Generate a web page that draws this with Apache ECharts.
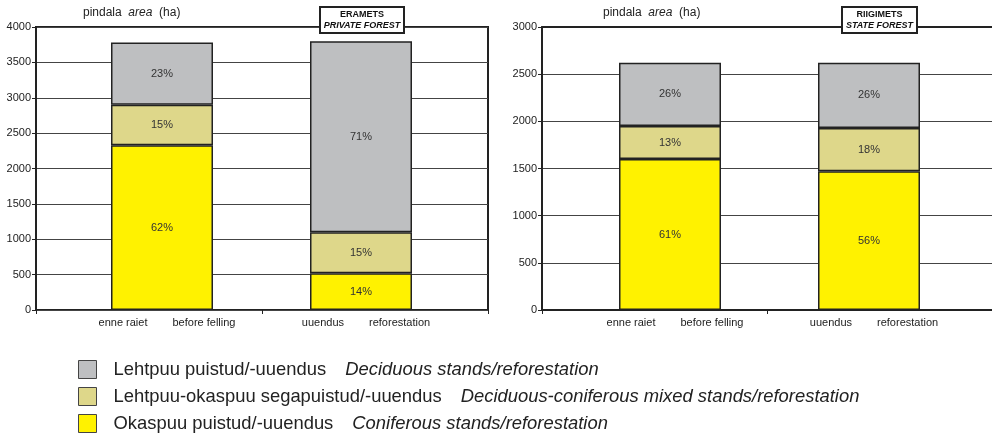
<!DOCTYPE html>
<html><head><meta charset="utf-8">
<script src="https://cdn.jsdelivr.net/npm/echarts@6/dist/echarts.min.js"></script>
<style>html,body{margin:0;padding:0;background:#fff}#c{width:992px;height:435px}</style>
</head><body><div id="c"></div>
<script>
// ---- data ----
const categoriesEt = ['enne raiet', 'uuendus'];
const categoriesEn = ['before felling', 'reforestation'];

const privateConiferous = [2330, 520];
const privateMixed = [570, 580];
const privateDeciduous = [880, 2700];
const privateConiferousPct = ['62%', '14%'];
const privateMixedPct = ['15%', '15%'];
const privateDeciduousPct = ['23%', '71%'];

const stateConiferous = [1600, 1470];
const stateMixed = [350, 460];
const stateDeciduous = [670, 690];
const stateConiferousPct = ['61%', '56%'];
const stateMixedPct = ['13%', '18%'];
const stateDeciduousPct = ['26%', '26%'];

const privateAxisMax = 4000;
const stateAxisMax = 3000;
const axisInterval = 500;

const seriesNamesEt = ['Lehtpuu puistud/-uuendus', 'Lehtpuu-okaspuu segapuistud/-uuendus', 'Okaspuu puistud/-uuendus'];
const seriesNamesEn = ['Deciduous stands/reforestation', 'Deciduous-coniferous mixed stands/reforestation', 'Coniferous stands/reforestation'];
const colors = ['#BEBFC1', '#DED78A', '#FFF200'];

// ---- chart ----
const FONT = "'Liberation Sans', Arial, sans-serif";
const chart = echarts.init(document.getElementById('c'), null, {renderer: 'canvas'});

function frameGrid(left, width, border) {
  return {left: left, top: 27, width: width, height: 283, show: border, borderColor: '#222', borderWidth: 2, backgroundColor: 'transparent'};
}
function barGrid(left) {
  return {left: left, top: 27, width: 398, height: 283};
}
function visibleY(gi, max) {
  return {
    gridIndex: gi, type: 'value', min: 0, max: max, interval: axisInterval,
    axisLine: {show: true, lineStyle: {color: '#222', width: 2}},
    axisTick: {show: true, length: 4, lineStyle: {color: '#222', width: 1}},
    axisLabel: {fontSize: 11, color: '#222', margin: 5, fontFamily: FONT,
      formatter: function (v) { return String(v); }},
    splitLine: {show: true, lineStyle: {color: '#444', width: 1}}
  };
}
function hiddenY(gi, max) {
  return {gridIndex: gi, type: 'value', min: 0, max: max, interval: axisInterval, show: false};
}
function frameX(gi, line) {
  return {
    gridIndex: gi, type: 'category', data: ['', ''],
    axisLine: {show: line, lineStyle: {color: '#222', width: 2}},
    axisTick: {show: true, length: 4, lineStyle: {color: '#222', width: 1}},
    axisLabel: {show: false}
  };
}
function topLineX(gi) {
  return {
    gridIndex: gi, type: 'category', position: 'top', data: [''],
    axisLine: {show: true, lineStyle: {color: '#222', width: 2}},
    axisTick: {show: false}, axisLabel: {show: false}
  };
}
function barX(gi) {
  return {
    gridIndex: gi, type: 'category', data: categoriesEt,
    axisLine: {show: false},
    axisTick: {show: false},
    axisLabel: {
      margin: 7, interval: 0,
      formatter: function (v, i) { return '{a|' + v + '}{b|' + categoriesEn[i] + '}'; },
      rich: {
        a: {fontSize: 11, color: '#222', fontFamily: FONT, padding: [0, 0, 0, 10]},
        b: {fontSize: 11, color: '#222', fontFamily: FONT, padding: [0, 0, 0, 25]}
      }
    }
  };
}
function mkSeries(idx, name, data, pct, color) {
  return {
    type: 'bar', name: name, xAxisIndex: idx, yAxisIndex: idx, stack: 's' + idx,
    data: data, barWidth: 102,
    itemStyle: {color: color, borderColor: '#222', borderWidth: 1.5},
    label: {show: true, position: 'inside', fontSize: 11, color: '#333', fontFamily: FONT,
      formatter: function (p) { return pct[p.dataIndex]; }}
  };
}
function areaTitle(left) {
  return {
    left: left, top: 7, padding: 0,
    text: 'pindala  {i|area}  (ha)',
    textStyle: {fontSize: 12, fontWeight: 'normal', color: '#222', fontFamily: FONT,
      rich: {i: {fontSize: 12, fontStyle: 'italic', color: '#222', fontFamily: FONT}}}
  };
}
function boxTitle(left, w, l1, l2) {
  return {
    left: left, top: 6, padding: [3, 4, 3, 4],
    backgroundColor: '#fff', borderColor: '#222', borderWidth: 2,
    text: '{a|' + l1 + '}\n{b|' + l2 + '}',
    textStyle: {
      fontFamily: FONT,
      rich: {
        a: {fontSize: 9, fontWeight: 'bold', color: '#111', width: w, align: 'center', lineHeight: 11, fontFamily: FONT},
        b: {fontSize: 9, fontWeight: 'bold', fontStyle: 'italic', color: '#111', width: w, align: 'center', lineHeight: 11, fontFamily: FONT}
      }
    }
  };
}
function mkLegend(i, top) {
  return {
    orient: 'vertical', left: 78, top: top, padding: 0,
    itemWidth: 18, itemHeight: 18, icon: 'rect',
    data: [seriesNamesEt[i]],
    itemStyle: {borderColor: '#444', borderWidth: 1},
    formatter: function (name) {
      return '{a|' + name + '}{b|' + seriesNamesEn[i] + '}';
    },
    textStyle: {
      fontFamily: FONT,
      rich: {
        a: {fontSize: 18.4, color: '#222', lineHeight: 18, padding: [0, 0, 0, 12], fontFamily: FONT},
        b: {fontSize: 18.4, color: '#222', lineHeight: 18, fontStyle: 'italic', padding: [0, 0, 0, 19], fontFamily: FONT}
      }
    }
  };
}

const option = {
  animation: false,
  backgroundColor: '#fff',
  textStyle: {fontFamily: FONT},
  title: [
    areaTitle(83),
    areaTitle(603),
    boxTitle(321, 74, 'ERAMETS', 'PRIVATE FOREST'),
    boxTitle(843, 65, 'RIIGIMETS', 'STATE FOREST')
  ],
  legend: [mkLegend(0, 360), mkLegend(1, 387), mkLegend(2, 414)],
  grid: [frameGrid(36, 452, true), barGrid(62.5), frameGrid(542, 470, false), barGrid(570.5)],
  xAxis: [frameX(0, false), barX(1), frameX(2, true), barX(3), topLineX(2)],
  yAxis: [
    visibleY(0, privateAxisMax),
    hiddenY(1, privateAxisMax),
    visibleY(2, stateAxisMax),
    hiddenY(3, stateAxisMax)
  ],
  series: [
    mkSeries(1, seriesNamesEt[2], privateConiferous, privateConiferousPct, colors[2]),
    mkSeries(1, seriesNamesEt[1], privateMixed, privateMixedPct, colors[1]),
    mkSeries(1, seriesNamesEt[0], privateDeciduous, privateDeciduousPct, colors[0]),
    mkSeries(3, seriesNamesEt[2], stateConiferous, stateConiferousPct, colors[2]),
    mkSeries(3, seriesNamesEt[1], stateMixed, stateMixedPct, colors[1]),
    mkSeries(3, seriesNamesEt[0], stateDeciduous, stateDeciduousPct, colors[0])
  ]
};
chart.setOption(option);
</script>
</body></html>
